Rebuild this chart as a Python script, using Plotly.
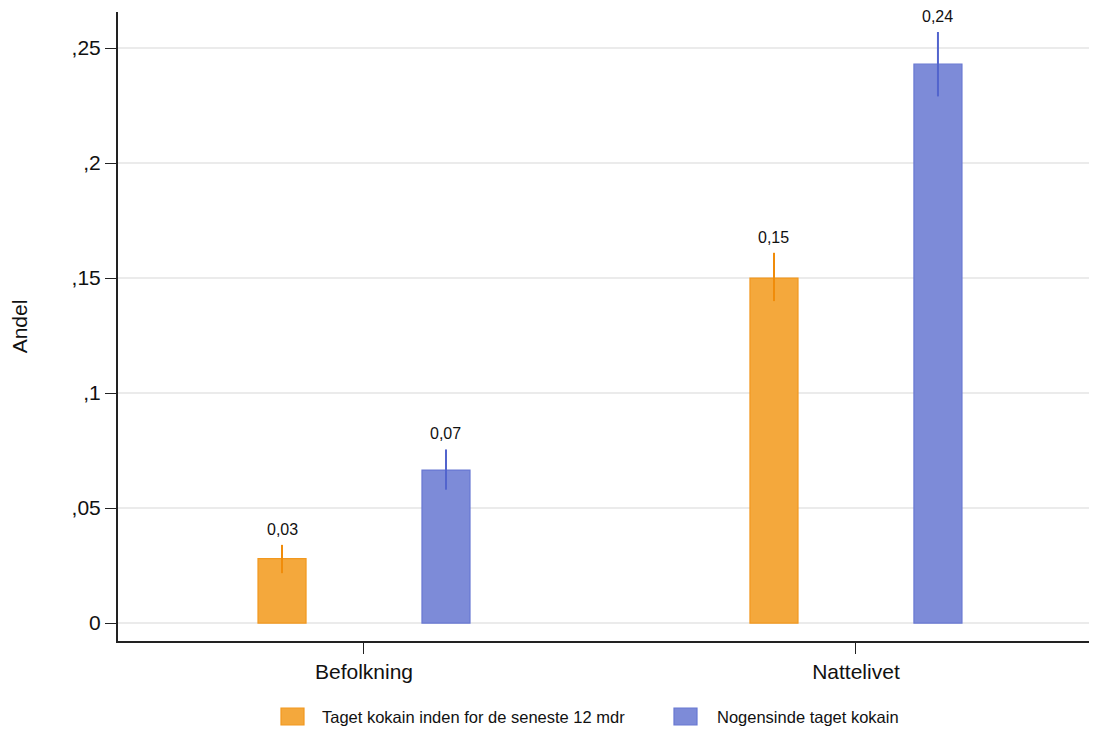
import plotly.graph_objects as go

categories = ["Befolkning", "Nattelivet"]
series_names = ["Taget kokain inden for de seneste 12 mdr", "Nogensinde taget kokain"]
orange_vals = [0.028, 0.150]
orange_lo = [0.0217, 0.140]
orange_hi = [0.034, 0.161]
blue_vals = [0.0665, 0.243]
blue_lo = [0.058, 0.229]
blue_hi = [0.0755, 0.257]
orange_labels = ["0,03", "0,15"]
blue_labels = ["0,07", "0,24"]
ytick_vals = [0, 0.05, 0.1, 0.15, 0.2, 0.25]
ytick_text = ["0", ",05", ",1", ",15", ",2", ",25"]

FONT = "Liberation Sans, Arial, sans-serif"
W, H = 1089, 721
ML, MR, MT, MB = 110, 0, 4, 88
PW, PH = W - ML - MR, H - MT - MB


def px_x(px):
    return (px - ML) / PW


def px_y(py):
    return (H - MB - py) / PH


xpos = list(range(len(categories)))
bar_w = 0.0976
offsets = [-0.2154, 0.1179]

colors = [
    dict(fill="rgb(244,168,60)", line="rgb(242,152,30)", err="rgb(240,140,10)"),
    dict(fill="rgb(125,139,216)", line="rgb(104,120,210)", err="rgb(82,100,205)"),
]
series = [
    (orange_vals, orange_lo, orange_hi, orange_labels),
    (blue_vals, blue_lo, blue_hi, blue_labels),
]

fig = go.Figure()
annotations = []
for i, (vals, lo, hi, labels) in enumerate(series):
    c = colors[i]
    fig.add_trace(go.Bar(
        x=xpos, y=vals, name=series_names[i], showlegend=False,
        width=bar_w, offset=offsets[i],
        marker=dict(color=c["fill"], line=dict(color=c["line"], width=1.2)),
        error_y=dict(type="data", symmetric=False,
                     array=[h - v for h, v in zip(hi, vals)],
                     arrayminus=[v - l for v, l in zip(vals, lo)],
                     width=0, thickness=2, color=c["err"]),
    ))
    for x, top, lab in zip(xpos, hi, labels):
        annotations.append(dict(xref="x", yref="y", x=x + offsets[i] + bar_w / 2, y=top,
                                xanchor="center", yanchor="bottom", yshift=5,
                                showarrow=False, text=lab,
                                font=dict(family=FONT, size=16, color="#111")))

# legend drawn manually (large swatches as in reference)
legend_items = [
    (series_names[0], colors[0], 273, 312),
    (series_names[1], colors[1], 666, 707),
]
shapes = []
for name, c, sx, tx in legend_items:
    shapes.append(dict(type="rect", xref="paper", yref="paper",
                       x0=px_x(sx), x1=px_x(sx + 23), y0=px_y(700), y1=px_y(717),
                       fillcolor=c["fill"], line=dict(color=c["line"], width=1.2)))
    annotations.append(dict(xref="paper", yref="paper", x=px_x(tx), y=px_y(708.5),
                            xanchor="left", yanchor="middle", showarrow=False,
                            text=name, font=dict(family=FONT, size=16.5, color="#111")))

fig.update_layout(
    width=W, height=H,
    barmode="overlay",
    showlegend=False,
    paper_bgcolor="white", plot_bgcolor="white",
    margin=dict(l=ML, r=MR, t=MT, b=MB, autoexpand=False),
    font=dict(family=FONT, size=21, color="#111"),
    shapes=shapes,
    annotations=annotations,
    xaxis=dict(range=[-0.5, 1.49], tickvals=xpos, ticktext=categories,
               showline=True, linecolor="#222", linewidth=2,
               ticks="outside", ticklen=11, tickwidth=1.2, tickcolor="#222", showgrid=False,
               zeroline=False, tickfont=dict(family=FONT, size=21, color="#111")),
    yaxis=dict(range=[-0.0078, 0.2657], tickvals=ytick_vals, ticktext=ytick_text,
               showline=True, linecolor="#222", linewidth=2,
               ticks="outside", ticklen=11, tickwidth=1.2, tickcolor="#222",
               showgrid=True, gridcolor="#ebebeb", gridwidth=1.5, zeroline=False,
               title=dict(text="Andel", font=dict(family=FONT, size=21, color="#111"), standoff=40),
               tickfont=dict(family=FONT, size=21, color="#111")),
)

fig.write_html("out.html")
